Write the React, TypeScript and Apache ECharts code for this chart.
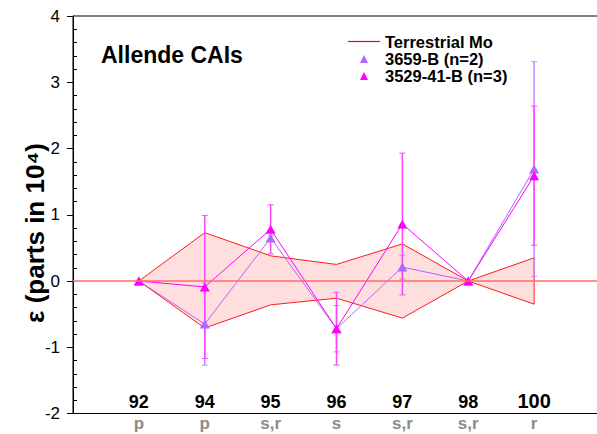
import React, { useEffect, useRef } from 'react';
import * as echarts from 'echarts';

const isotopes = ['92', '94', '95', '96', '97', '98', '100'];
const processes = ['p', 'p', 's,r', 's', 's,r', 's,r', 'r'];
const terrUpper = [0, 0.73, 0.38, 0.25, 0.56, 0, 0.35];
const terrLower = [0, -0.71, -0.36, -0.26, -0.56, 0, -0.35];
const s3659 = [0, -0.65, 0.65, -0.72, 0.21, 0, 1.69];
const s3659Err = [0, 0.62, 0.04, 0.35, 0.18, 0, 1.62];
const s3529 = [0, -0.09, 0.78, -0.72, 0.86, 0, 1.59];
const s3529Err = [0, 1.08, 0.37, 0.55, 1.07, 0, 1.05];
const yTicks = [-2, -1, 0, 1, 2, 3, 4];

const FONT = '"Liberation Sans", Arial, Helvetica, sans-serif';
const C_PURPLE = '#b266ff';
const C_MAG = '#ff00ff';
const idx = isotopes.map((_, i) => i);

// legend icons: invisible move-to points keep the 32x10 box so the mark keeps its shape
const LINE_ICON = 'path://M0,0M32,10M0,4.4H32V5.6H0Z';
const TRI_ICON = 'path://M0,0M32,10M12,9.5L16,1.5L20,9.5Z';

function errSeries(name: string, vals: number[], errs: number[], color: string, z: number) {
  return {
    type: 'custom',
    name,
    z,
    silent: true,
    data: idx.map((i) => [i, vals[i], errs[i]]),
    encode: { x: 0, y: 1 },
    renderItem: (params: any, api: any) => {
      const x = api.value(0);
      const v = api.value(1);
      const e = api.value(2);
      if (!e) return null;
      const top = api.coord([x, v + e]);
      const bot = api.coord([x, v - e]);
      const cap = 3;
      return {
        type: 'group',
        children: [
          { type: 'line', shape: { x1: top[0], y1: top[1], x2: bot[0], y2: bot[1] }, style: { stroke: color, lineWidth: 1.5 } },
          { type: 'line', shape: { x1: top[0] - cap, y1: top[1], x2: top[0] + cap, y2: top[1] }, style: { stroke: color, lineWidth: 1 } },
          { type: 'line', shape: { x1: bot[0] - cap, y1: bot[1], x2: bot[0] + cap, y2: bot[1] }, style: { stroke: color, lineWidth: 1 } },
        ],
      };
    },
  };
}

export default function App() {
  const ref = useRef<HTMLDivElement>(null);
  useEffect(() => {
    if (!ref.current) return;
    const chart = echarts.init(ref.current, null, { renderer: 'svg' });
    const option: any = {
      animation: false,
      backgroundColor: '#ffffff',
      grid: {
        left: 73,
        top: 16,
        width: 527,
        height: 397.5,
        show: true,
        borderColor: '#000',
        borderWidth: 1,
        backgroundColor: 'transparent',
        containLabel: false,
        outerBoundsMode: 'none',
      },
      title: {
        text: 'Allende CAIs',
        left: 101,
        top: 43,
        padding: 0,
        textStyle: { fontFamily: FONT, fontSize: 23, fontWeight: 'bold', color: '#000' },
      },
      legend: {
        orient: 'vertical',
        left: 348,
        top: 33,
        padding: 0,
        itemWidth: 32,
        itemHeight: 10,
        itemGap: 0,
        selectedMode: false,
        textStyle: { fontFamily: FONT, fontSize: 16.5, fontWeight: 'bold', color: '#000' },
        data: [
          { name: 'Terrestrial Mo', icon: LINE_ICON, itemStyle: { color: '#ff0000' } },
          { name: '3659-B (n=2)', icon: TRI_ICON },
          { name: '3529-41-B (n=3)', icon: TRI_ICON },
        ],
      },
      graphic: [
        {
          type: 'text',
          x: 35,
          y: 233,
          rotation: Math.PI / 2,
          style: {
            text: 'ε (parts in 10⁴)',
            font: `bold 26px ${FONT}`,
            fill: '#000',
            align: 'center',
            verticalAlign: 'middle',
          },
        },
      ],
      xAxis: [
        {
          type: 'value',
          min: -1,
          max: 7,
          interval: 1,
          position: 'bottom',
          axisLine: { show: true, onZero: false, lineStyle: { color: '#000', width: 1 } },
          axisTick: { show: false },
          splitLine: { show: false },
          axisLabel: {
            inside: true,
            margin: 3,
            fontFamily: FONT,
            fontSize: 18,
            fontWeight: 'bold',
            color: '#000',
            formatter: (v: number) => {
              const s = isotopes[v];
              if (!s) return '';
              return s.length > 2 ? `{big|${s}}` : s;
            },
            rich: { big: { fontFamily: FONT, fontSize: 20, fontWeight: 'bold', color: '#000' } },
          },
        },
        {
          type: 'value',
          min: -1,
          max: 7,
          interval: 1,
          position: 'bottom',
          offset: 0,
          axisLine: { show: false, onZero: false },
          axisTick: { show: false },
          splitLine: { show: false },
          axisLabel: {
            margin: 1,
            fontFamily: FONT,
            fontSize: 17,
            fontWeight: 'bold',
            color: '#8c8c8c',
            formatter: (v: number) => processes[v] ?? '',
          },
        },
      ],
      yAxis: [
        {
          type: 'value',
          min: yTicks[0],
          max: yTicks[yTicks.length - 1],
          interval: 1,
          position: 'left',
          axisLine: { show: true, onZero: false, lineStyle: { color: '#000', width: 1 } },
          axisTick: { show: true, length: 6, lineStyle: { color: '#000' } },
          axisLabel: { margin: 13, fontFamily: FONT, fontSize: 17, color: '#000' },
          splitLine: { show: false },
        },
        {
          type: 'value',
          min: yTicks[0],
          max: yTicks[yTicks.length - 1],
          interval: 1,
          position: 'left',
          offset: 0,
          axisLine: { show: false, onZero: false },
          axisTick: { show: false, inside: true },
          axisLabel: { show: false },
          splitLine: { show: false },
          minorTick: { show: true, splitNumber: 5, length: 4, lineStyle: { color: '#000' } },
        },
      ],
      series: [
        {
          type: 'custom',
          name: 'Terrestrial Mo',
          z: 1,
          silent: true,
          itemStyle: { color: '#ff0000' },
          data: idx.map((i) => [i, terrUpper[i], terrLower[i]]),
          encode: { x: 0, y: [1, 2] },
          renderItem: (params: any, api: any) => {
            if (params.dataIndex !== 0) return null;
            const pts = [
              ...idx.map((i) => api.coord([i, terrUpper[i]])),
              ...idx.slice().reverse().map((i) => api.coord([i, terrLower[i]])),
            ];
            return {
              type: 'polygon',
              shape: { points: pts },
              style: { fill: '#ffdede', stroke: '#ff1a1a', lineWidth: 1 },
            };
          },
        },
        errSeries('err3659', s3659, s3659Err, '#c386ff', 2),
        errSeries('err3529', s3529, s3529Err, '#ff44ff', 2),
        {
          type: 'line',
          name: '3659-B (n=2)',
          z: 3,
          data: idx.map((i) => [i, s3659[i]]),
          symbol: 'triangle',
          symbolSize: [10, 9],
          lineStyle: { color: C_PURPLE, width: 1 },
          itemStyle: { color: C_PURPLE },
          emphasis: { disabled: true },
          markLine: {
            silent: true,
            symbol: ['none', 'none'],
            label: { show: false },
            lineStyle: { color: '#ff6a6a', width: 1.5, type: 'solid' },
            data: [{ yAxis: 0 }],
          },
        },
        {
          type: 'line',
          name: '3529-41-B (n=3)',
          z: 3,
          data: idx.map((i) => [i, s3529[i]]),
          symbol: 'triangle',
          symbolSize: [10, 9],
          lineStyle: { color: C_MAG, width: 1 },
          itemStyle: { color: C_MAG },
          emphasis: { disabled: true },
        },
      ],
    };
    chart.setOption(option);
    return () => chart.dispose();
  }, []);
  return <div ref={ref} style={{ position: 'fixed', left: 0, top: 0, width: 597, height: 434 }} />;
}
